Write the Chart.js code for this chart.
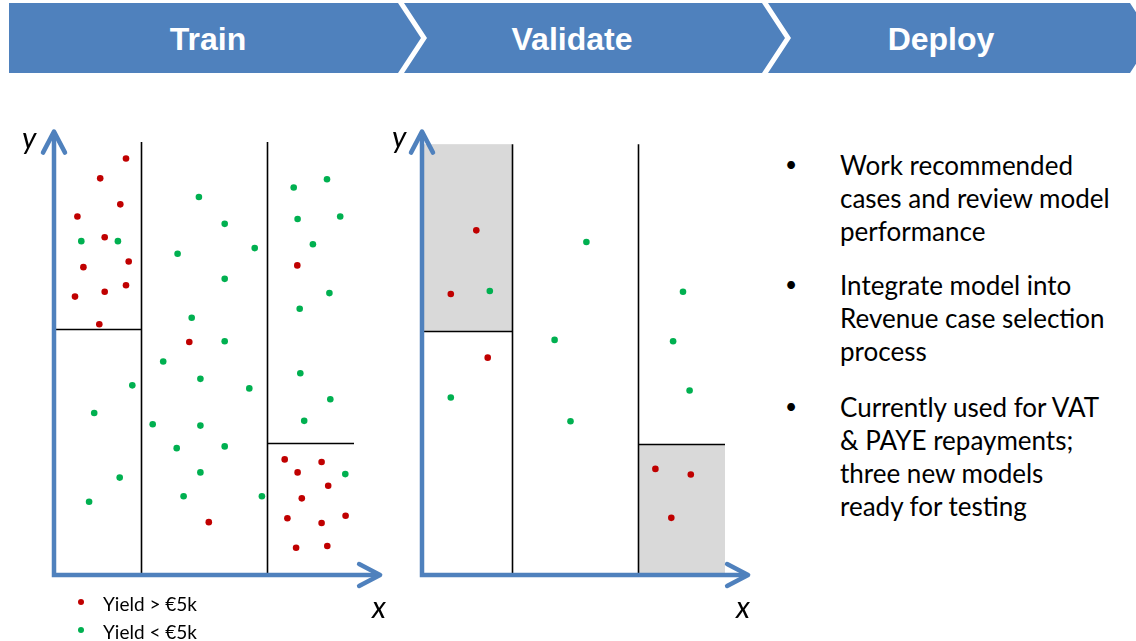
<!DOCTYPE html>
<html><head><meta charset="utf-8">
<script src="https://cdn.jsdelivr.net/npm/chart.js@4.4.1/dist/chart.umd.min.js"></script>
<style>
body{margin:0;width:1136px;height:641px;background:#fff;position:relative;overflow:hidden;font-family:Lato,"Noto Sans",sans-serif;color:#000}
#hdr{position:absolute;left:0;top:0}
canvas{position:absolute}
.ax{position:absolute;font-style:italic;font-size:30px;line-height:30px;font-family:Lato,sans-serif}
.leg{position:absolute;left:103px;font-size:19px;line-height:19px;white-space:nowrap}
.dot{position:absolute;width:6.5px;height:6.5px;border-radius:50%}
.para{position:absolute;left:840px;font-size:26px;line-height:33.2px;white-space:nowrap}
.bul{position:absolute;left:785px;font-size:21px;line-height:21px}
</style></head><body>
<svg id="hdr" width="1136" height="80">
  <polygon points="9,3 398,3 421,38 398,73 9,73" fill="#4F81BD"/>
  <polygon points="404,3 762,3 785,38 762,73 404,73 427,38" fill="#4F81BD"/>
  <polygon points="768,3 1130,3 1153,38 1130,73 768,73 791,38" fill="#4F81BD"/>
  <text x="208" y="50" fill="#fff" font-family="Liberation Sans, Arial, sans-serif" font-weight="bold" font-size="32" text-anchor="middle">Train</text>
  <text x="572" y="50" fill="#fff" font-family="Liberation Sans, Arial, sans-serif" font-weight="bold" font-size="32" text-anchor="middle">Validate</text>
  <text x="941" y="50" fill="#fff" font-family="Liberation Sans, Arial, sans-serif" font-weight="bold" font-size="32" text-anchor="middle">Deploy</text>
</svg>

<canvas id="train" width="390" height="480" style="left:0;top:110px"></canvas>
<canvas id="valid" width="390" height="480" style="left:368px;top:110px"></canvas>

<div class="ax" style="left:22px;top:122px">y</div>
<div class="ax" style="left:372px;top:591px">x</div>
<div class="ax" style="left:392px;top:121px">y</div>
<div class="ax" style="left:736px;top:591px">x</div>

<div class="dot" style="left:77.7px;top:598.5px;background:#C00000"></div>
<div class="leg" style="top:593.5px">Yield &gt; €5k</div>
<div class="dot" style="left:77.7px;top:626.8px;background:#00B050"></div>
<div class="leg" style="top:622px">Yield &lt; €5k</div>

<div class="bul" style="top:153px">•</div>
<div class="para" style="top:148.5px">Work recommended<br>cases and review model<br>performance</div>
<div class="bul" style="top:273px">•</div>
<div class="para" style="top:268.5px">Integrate model into<br>Revenue case selection<br>process</div>
<div class="bul" style="top:395px">•</div>
<div class="para" style="top:390.5px">Currently used for VAT<br>&amp; PAYE repayments;<br>three new models<br>ready for testing</div>

<script>
// ---- Train panel data (x, y in plot units 0-10) ----
const trainHighX = [2.40,1.54,2.21,0.78,1.69,2.49,0.98,2.40,1.69,0.70,1.51,4.51,8.11,5.16,7.69,8.92,8.12,9.14,8.26,7.78,8.92,9.72,8.07,9.11];
const trainHighY = [9.62,9.16,8.56,8.28,7.80,7.24,7.11,6.69,6.54,6.43,5.79,5.38,7.15,1.22,2.67,2.61,2.37,2.06,1.77,1.31,1.20,1.37,0.63,0.67];
const trainLowX  = [0.91,2.13,4.83,5.69,6.69,4.12,5.69,4.59,5.69,3.64,7.99,9.10,8.12,9.54,8.63,9.18,8.19,2.61,4.88,6.51,8.21,1.34,3.29,4.88,9.21,8.34,4.09,5.69,4.88,2.19,1.17,4.32,6.93,9.71];
const trainLowY  = [7.71,7.71,8.73,8.11,7.55,7.42,6.84,5.94,5.40,4.93,8.95,9.14,8.22,8.28,7.64,6.51,6.15,4.38,4.53,4.31,4.66,3.74,3.48,3.45,4.06,3.56,2.93,2.97,2.37,2.25,1.69,1.82,1.82,2.33];
// tree splits: vertical lines at x, horizontal segments [x0, x1, y]
const trainVSplits = [2.9, 7.1];
const trainHSplits = [[0, 2.9, 5.67], [7.1, 10.0, 3.06]];
const trainTop = 10.0;
const trainShaded = [];

// ---- Validate panel data ----
const validHighX = [1.81,0.96,2.19,7.78,8.96,8.31];
const validHighY = [7.96,6.49,5.02,2.45,2.32,1.32];
const validLowX  = [2.26,5.48,8.70,4.42,8.37,0.96,4.95,8.92];
const validLowY  = [6.56,7.69,6.54,5.43,5.40,4.10,3.55,4.26];
const validVSplits = [3.0, 7.2];
const validHSplits = [[0, 3.0, 5.63], [7.2, 10.1, 3.02]];
const validTop = 9.95;
// shaded leaves [x0, x1, y0, y1]
const validShaded = [[0, 3.0, 5.63, 9.95], [7.2, 10.1, 0, 3.02]];

// axis arrow extents (plot units)
const axisTipX = 10.87;
const axisTipY = 10.24;

const RED = '#C00000', GREEN = '#00B050', BLUE = '#4F81BD';

function pts(xs, ys){ return xs.map((v,i)=>({x:v, y:ys[i]})); }

const treePlugin = {
  id: 'tree',
  beforeDatasetsDraw(chart, args, o){
    const {ctx, scales:{x, y}} = chart;
    ctx.save();
    ctx.fillStyle = '#D9D9D9';
    o.shaded.forEach(r=>{
      const a = x.getPixelForValue(r[0]), b = x.getPixelForValue(r[1]);
      const c = y.getPixelForValue(r[2]), d = y.getPixelForValue(r[3]);
      ctx.fillRect(a, d, b-a, c-d);
    });
    ctx.strokeStyle = '#000';
    ctx.lineWidth = 1.6;
    o.vsplits.forEach(v=>{
      const px = Math.round(x.getPixelForValue(v))+0.5;
      ctx.beginPath();
      ctx.moveTo(px, y.getPixelForValue(o.top));
      ctx.lineTo(px, y.getPixelForValue(0));
      ctx.stroke();
    });
    o.hsplits.forEach(h=>{
      const py = Math.round(y.getPixelForValue(h[2]))+0.5;
      ctx.beginPath();
      ctx.moveTo(x.getPixelForValue(h[0]), py);
      ctx.lineTo(x.getPixelForValue(h[1]), py);
      ctx.stroke();
    });
    ctx.restore();
  },
  afterDatasetsDraw(chart){
    const {ctx, scales:{x, y}} = chart;
    const x0 = x.getPixelForValue(0), y0 = y.getPixelForValue(0);
    const xt = x.getPixelForValue(axisTipX), yt = y.getPixelForValue(axisTipY);
    ctx.save();
    ctx.strokeStyle = BLUE;
    ctx.lineWidth = 4.5;
    ctx.lineJoin = 'miter';
    ctx.lineCap = 'butt';
    ctx.beginPath();
    ctx.moveTo(x0, yt + 2);
    ctx.lineTo(x0, y0);
    ctx.lineTo(xt - 2, y0);
    ctx.stroke();
    ctx.lineCap = 'round';
    ctx.lineJoin = 'round';
    ctx.beginPath();
    ctx.moveTo(x0 - 11, yt + 21); ctx.lineTo(x0, yt); ctx.lineTo(x0 + 11, yt + 21);
    ctx.stroke();
    ctx.beginPath();
    ctx.moveTo(xt - 21, y0 - 11); ctx.lineTo(xt, y0); ctx.lineTo(xt - 21, y0 + 11);
    ctx.stroke();
    ctx.restore();
  }
};

function makeChart(id, hx, hy, lx, ly, vs, hs, top, shaded){
  return new Chart(document.getElementById(id), {
    type: 'scatter',
    data: { datasets: [
      {label:'Yield > €5k', data: pts(hx, hy), backgroundColor: RED, borderWidth: 0, pointRadius: 3.3, clip: false},
      {label:'Yield < €5k', data: pts(lx, ly), backgroundColor: GREEN, borderWidth: 0, pointRadius: 3.3, clip: false}
    ]},
    options: {
      responsive: false, animation: false, events: [],
      layout: { padding: {left: 54, top: 32, right: 36, bottom: 15} },
      scales: {
        x: {type:'linear', min: 0, max: 10, display: false},
        y: {type:'linear', min: 0, max: 10, display: false}
      },
      plugins: {
        legend: {display: false}, tooltip: {enabled: false},
        tree: {vsplits: vs, hsplits: hs, top: top, shaded: shaded}
      }
    },
    plugins: [treePlugin]
  });
}

makeChart('train', trainHighX, trainHighY, trainLowX, trainLowY, trainVSplits, trainHSplits, trainTop, trainShaded);
makeChart('valid', validHighX, validHighY, validLowX, validLowY, validVSplits, validHSplits, validTop, validShaded);
</script>
</body></html>
